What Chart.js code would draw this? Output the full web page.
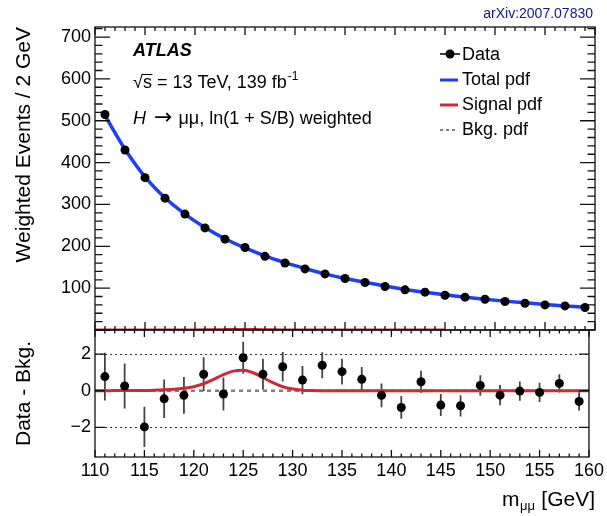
<!doctype html>
<html lang="en">
<head>
<meta charset="utf-8">
<title>H to mumu weighted invariant mass</title>
<style>
    * { margin: 0; padding: 0; }
    body { background: #fff; }
    .plot { position: relative; width: 607px; height: 516px; }
    .plot canvas { position: absolute; left: 0; top: 0; }
</style>
</head>
<body>
<div class="plot">
    <canvas id="mainPanel" width="607" height="516"></canvas>
    <canvas id="residPanel" width="607" height="516"></canvas>
</div>
<script src="https://cdn.jsdelivr.net/npm/chart.js"></script>
<script>
    // bin centres (2 GeV bins)
    const mass = [111, 113, 115, 117, 119, 121, 123, 125, 127, 129, 131, 133, 135,
                  137, 139, 141, 143, 145, 147, 149, 151, 153, 155, 157, 159];
    // weighted events / 2 GeV
    const events = [515, 430, 364, 315, 277, 244, 217, 197, 176, 160, 146, 134, 123,
                    113.5, 104, 96, 90.5, 83, 78.5, 73.5, 68, 64, 60, 57.5, 53.7];
    const totalPdf = [512, 432, 366, 316, 277, 245, 218, 196, 177, 161, 147, 134, 123,
                      114, 105, 97, 90, 84, 78.5, 73.5, 69, 65, 61, 57.5, 54.5];
    // data - bkg
    const resid = [0.77, 0.26, -1.97, -0.44, -0.25, 0.9, -0.18, 1.8, 0.9, 1.31, 0.58, 1.39, 1.04,
                   0.62, -0.25, -0.91, 0.49, -0.78, -0.82, 0.29, -0.24, -0.02, -0.09, 0.4, -0.58];
    const residErr = [1.3, 1.23, 1.1, 1.05, 1.0, 0.93, 0.9, 0.87, 0.85, 0.8, 0.77, 0.71, 0.7,
                      0.67, 0.65, 0.62, 0.6, 0.6, 0.58, 0.56, 0.55, 0.53, 0.52, 0.5, 0.5];
    // signal pdf
    const sigMass = [110, 111, 112, 113, 114, 115, 116, 117, 118, 119, 120, 121, 122, 123, 124, 125,
                     126, 127, 128, 129, 130, 131, 132, 133, 135, 140, 145, 150, 155, 160];
    const sigPdf = [0, 0, 0.01, 0.01, 0.02, 0.02, 0.03, 0.05, 0.08, 0.13, 0.22, 0.38, 0.62, 0.88, 1.07, 1.12,
                    0.98, 0.72, 0.44, 0.22, 0.09, 0.03, 0.01, 0, 0, 0, 0, 0, 0, 0];
    const bkgMass = [110, 160];
    const bkgResid = [0, 0];

    const eventTicks = [100, 200, 300, 400, 500, 600, 700];
    const residTicks = [-2, 0, 2];
    const massTicks = [110, 115, 120, 125, 130, 135, 140, 145, 150, 155, 160];

    const FONT = "'Liberation Sans', Arial, Helvetica, sans-serif";
    const BLUE = '#1f3dff';
    const RED = '#cc2a38';
    const GREY = '#808080';

    Chart.defaults.font.family = FONT;
    Chart.defaults.color = '#000';

    const pts = (xs, ys) => xs.map((v, i) => ({x: v, y: ys[i]}));

    // ROOT style frame with inward ticks
    function drawFrame(chart, o) {
        const {ctx, chartArea: {left, right, top, bottom}, scales: {x, y}} = chart;
        ctx.save();
        ctx.strokeStyle = '#111';
        ctx.lineWidth = 1.3;
        ctx.beginPath();
        for (let v = o.yFrom; v <= o.yTo + 1e-9; v += o.yMinor) {
            const py = y.getPixelForValue(v);
            if (py < top - 0.5 || py > bottom + 0.5) continue;
            const major = Math.abs(v / o.yMajor - Math.round(v / o.yMajor)) < 1e-6;
            const len = major ? o.yLen : o.yLen / 2;
            ctx.moveTo(left, py); ctx.lineTo(left + len, py);
            ctx.moveTo(right, py); ctx.lineTo(right - len, py);
        }
        for (let v = 110; v <= 160; v += 1) {
            const px = x.getPixelForValue(v);
            const len = v % 5 === 0 ? o.xLen : o.xLen / 2;
            ctx.moveTo(px, top); ctx.lineTo(px, top + len);
            ctx.moveTo(px, bottom); ctx.lineTo(px, bottom - len);
        }
        ctx.stroke();
        ctx.strokeRect(left, top, right - left, bottom - top);
        ctx.restore();
    }

    const mainDecor = {
        id: 'mainDecor',
        afterDraw(chart) {
            const {ctx} = chart;
            drawFrame(chart, {yFrom: 0, yTo: 720, yMinor: 20, yMajor: 100, yLen: 15, xLen: 8});
            ctx.save();
            ctx.fillStyle = '#000';
            ctx.textBaseline = 'alphabetic';

            ctx.font = `italic bold 18px ${FONT}`;
            ctx.fillText('ATLAS', 133, 56);

            ctx.font = `18px ${FONT}`;
            const t = '√s = 13 TeV, 139 fb';
            ctx.fillText(t, 133, 88);
            const wRoot = ctx.measureText('√').width;
            const wS = ctx.measureText('s').width;
            const w = ctx.measureText(t).width;
            ctx.lineWidth = 1;
            ctx.strokeStyle = '#000';
            ctx.beginPath();
            ctx.moveTo(133 + wRoot - 1, 74.5);
            ctx.lineTo(133 + wRoot + wS + 0.5, 74.5);
            ctx.stroke();
            ctx.font = `12px ${FONT}`;
            ctx.fillText('-1', 133 + w + 1, 80);

            // H -> mu mu line, built from pieces
            let cx = 133;
            ctx.font = `italic 18px ${FONT}`;
            ctx.fillText('H', cx, 124);
            cx += ctx.measureText('H').width + 8;
            ctx.font = `22px 'DejaVu Sans', sans-serif`;
            ctx.fillText('→', cx, 124);
            cx += ctx.measureText('→').width + 6;
            ctx.font = `18px ${FONT}`;
            ctx.fillText('μμ, ln(1 + S/B) weighted', cx, 124);

            // legend
            const lx = 440, tx = 462;
            ctx.font = `18px ${FONT}`;
            ctx.strokeStyle = '#000';
            ctx.lineWidth = 1.5;
            ctx.beginPath();
            ctx.moveTo(lx, 54); ctx.lineTo(lx + 20, 54);
            ctx.moveTo(lx + 10, 50); ctx.lineTo(lx + 10, 58);
            ctx.stroke();
            ctx.beginPath();
            ctx.arc(lx + 10, 54, 4.5, 0, Math.PI * 2);
            ctx.fill();
            ctx.fillText('Data', tx, 60);

            ctx.lineWidth = 3;
            ctx.strokeStyle = BLUE;
            ctx.beginPath(); ctx.moveTo(lx, 80); ctx.lineTo(lx + 18, 80); ctx.stroke();
            ctx.fillText('Total pdf', tx, 85);

            ctx.strokeStyle = RED;
            ctx.beginPath(); ctx.moveTo(lx, 105); ctx.lineTo(lx + 18, 105); ctx.stroke();
            ctx.fillText('Signal pdf', tx, 110);

            ctx.strokeStyle = GREY;
            ctx.lineWidth = 2;
            ctx.setLineDash([3, 3]);
            ctx.beginPath(); ctx.moveTo(lx, 130); ctx.lineTo(lx + 18, 130); ctx.stroke();
            ctx.setLineDash([]);
            ctx.fillText('Bkg. pdf', tx, 135);

            ctx.fillStyle = '#14148c';
            ctx.font = `14px ${FONT}`;
            ctx.textAlign = 'right';
            ctx.fillText('arXiv:2007.07830', 593, 18);
            ctx.restore();
        }
    };

    const residDecor = {
        id: 'residDecor',
        beforeDatasetsDraw(chart) {
            const {ctx, chartArea: {left, right}, scales: {x, y}} = chart;
            ctx.save();
            ctx.strokeStyle = '#333';
            ctx.lineWidth = 1;
            ctx.setLineDash([2, 3]);
            ctx.beginPath();
            [-2, 2].forEach(v => {
                const py = Math.round(y.getPixelForValue(v)) + 0.5;
                ctx.moveTo(left, py); ctx.lineTo(right, py);
            });
            ctx.stroke();
            ctx.setLineDash([]);
            ctx.strokeStyle = '#444';
            ctx.lineWidth = 1.8;
            ctx.beginPath();
            mass.forEach((m, i) => {
                const px = x.getPixelForValue(m);
                ctx.moveTo(px, y.getPixelForValue(resid[i] + residErr[i]));
                ctx.lineTo(px, y.getPixelForValue(resid[i] - residErr[i]));
            });
            ctx.stroke();
            ctx.restore();
        },
        afterDraw(chart) {
            const {ctx} = chart;
            drawFrame(chart, {yFrom: -2, yTo: 2, yMinor: 2, yMajor: 2, yLen: 10, xLen: 7});
            ctx.save();
            ctx.fillStyle = '#000';
            ctx.textBaseline = 'alphabetic';
            ctx.textAlign = 'left';
            ctx.font = `21px ${FONT}`;
            const unit = ' [GeV]';
            const wU = ctx.measureText(unit).width;
            const wM = ctx.measureText('m').width;
            ctx.font = `13px ${FONT}`;
            const wSub = ctx.measureText('μμ').width;
            const xs = 595 - wU - wSub - wM - 1;
            ctx.font = `21px ${FONT}`;
            ctx.fillText('m', xs, 506);
            ctx.font = `13px ${FONT}`;
            ctx.fillText('μμ', xs + wM + 0.5, 510);
            ctx.font = `21px ${FONT}`;
            ctx.fillText(unit, xs + wM + wSub + 1, 506);
            ctx.restore();
        }
    };

    const axisTitle = (text, align) => ({
        display: true, text, align,
        font: {size: 21}, padding: {top: 12, bottom: 0}
    });

    const mainChart = new Chart(document.getElementById('mainPanel'), {
        type: 'scatter',
        data: {
            datasets: [{
                label: 'Data',
                data: pts(mass, events),
                pointRadius: 4.5,
                pointBackgroundColor: '#000',
                pointBorderWidth: 0,
                order: 0
            }, {
                label: 'Total pdf',
                data: pts(mass, totalPdf),
                showLine: true,
                borderColor: BLUE,
                borderWidth: 3.5,
                pointRadius: 0,
                cubicInterpolationMode: 'monotone',
                order: 1
            }, {
                label: 'Signal pdf',
                data: pts(sigMass.filter(m => m <= 145), sigPdf),
                showLine: true,
                borderColor: RED,
                borderWidth: 3,
                pointRadius: 0,
                cubicInterpolationMode: 'monotone',
                order: 2
            }]
        },
        options: {
            responsive: false,
            animation: false,
            devicePixelRatio: 1,
            layout: {padding: {top: 27, right: 12, bottom: 186, left: 0}},
            plugins: {legend: {display: false}, tooltip: {enabled: false}},
            scales: {
                x: {type: 'linear', min: 110, max: 160, display: false},
                y: {
                    type: 'linear', min: 0, max: 724,
                    afterBuildTicks: s => { s.ticks = eventTicks.map(v => ({value: v})); },
                    afterFit: s => { s.width = 95; },
                    ticks: {font: {size: 18}, padding: 4, autoSkip: false},
                    grid: {display: false, drawTicks: false},
                    border: {display: false},
                    title: axisTitle('Weighted Events / 2 GeV', 'end')
                }
            }
        },
        plugins: [mainDecor]
    });

    const residChart = new Chart(document.getElementById('residPanel'), {
        type: 'scatter',
        data: {
            datasets: [{
                label: 'Data',
                data: pts(mass, resid),
                pointRadius: 4.5,
                pointBackgroundColor: '#000',
                pointBorderWidth: 0,
                order: 0
            }, {
                label: 'Signal pdf',
                data: pts(sigMass, sigPdf),
                showLine: true,
                borderColor: RED,
                borderWidth: 3,
                pointRadius: 0,
                cubicInterpolationMode: 'monotone',
                order: 1
            }, {
                label: 'Bkg. pdf',
                data: pts(bkgMass, bkgResid),
                showLine: true,
                borderColor: GREY,
                borderWidth: 2.5,
                borderDash: [4, 4],
                pointRadius: 0,
                order: 2
            }]
        },
        options: {
            responsive: false,
            animation: false,
            devicePixelRatio: 1,
            layout: {padding: {top: 330, right: 12, bottom: 0, left: 0}},
            plugins: {legend: {display: false}, tooltip: {enabled: false}},
            scales: {
                x: {
                    type: 'linear', min: 110, max: 160,
                    afterBuildTicks: s => { s.ticks = massTicks.map(v => ({value: v})); },
                    afterFit: s => { s.height = 59; },
                    ticks: {font: {size: 18}, padding: 3, autoSkip: false, maxRotation: 0},
                    grid: {display: false, drawTicks: false},
                    border: {display: false}
                },
                y: {
                    type: 'linear', min: -3.61, max: 3.31,
                    afterBuildTicks: s => { s.ticks = residTicks.map(v => ({value: v})); },
                    afterFit: s => { s.width = 95; },
                    ticks: {font: {size: 18}, padding: 4, autoSkip: false,
                            callback: v => v < 0 ? '\u2212' + String(-v) : String(v)},
                    grid: {display: false, drawTicks: false},
                    border: {display: false},
                    title: axisTitle('Data - Bkg.', 'center')
                }
            }
        },
        plugins: [residDecor]
    });
</script>
</body>
</html>
